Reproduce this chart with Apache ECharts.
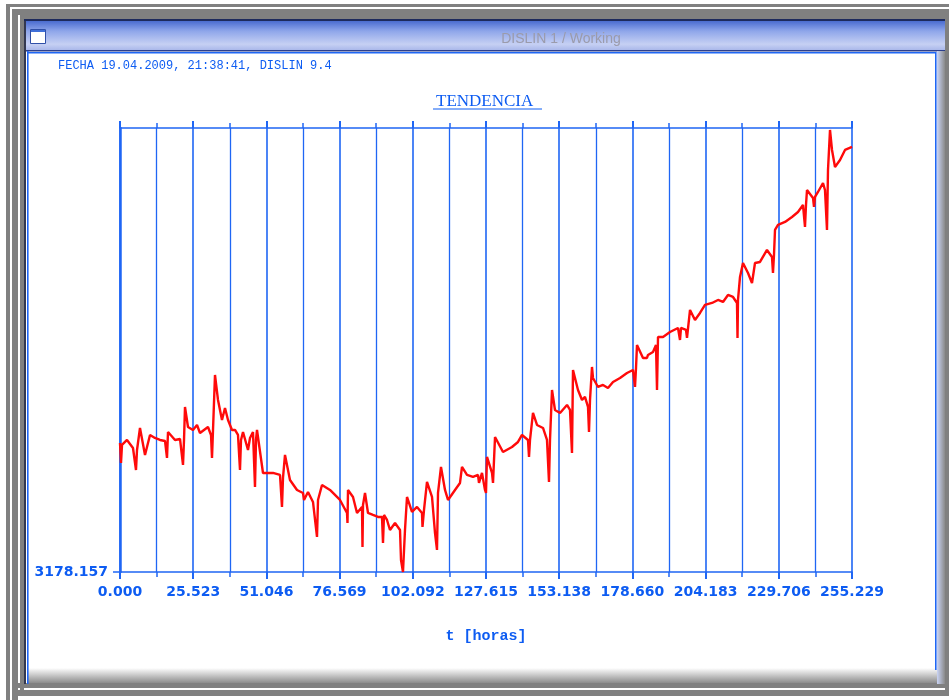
<!DOCTYPE html>
<html>
<head>
<meta charset="utf-8">
<script src="https://cdn.jsdelivr.net/npm/echarts@6/dist/echarts.min.js"></script>
<style>
  html, body { margin: 0; padding: 0; background: #ffffff; }
  #chart { width: 949px; height: 700px; }
</style>
</head>
<body>
<div id="chart"></div>
<script>
// Axis ranges (hours on x, measured level on y)
const T_MIN = 0;
const T_MAX = 255.229;
const T_STEP = 25.5229;
const Y_MIN = 3178.157;
const Y_MAX = 3222.557;

// Labels printed under the major x ticks
const xTickLabels = [
  '0.000', '25.523', '51.046', '76.569', '102.092', '127.615',
  '153.138', '178.660', '204.183', '229.706', '255.229'
];

// Sample times [h]
const hours = [
  0.00, 0.35, 0.70, 2.44, 4.53, 5.58, 5.93, 6.97, 8.72, 10.46,
  12.20, 13.95, 15.69, 16.39, 16.74, 19.18, 20.92, 21.97, 22.32, 22.66,
  23.71, 25.45, 26.85, 27.89, 30.68, 31.73, 32.08, 32.43, 33.12, 34.17,
  35.56, 36.61, 37.66, 39.05, 40.10, 41.14, 41.84, 42.19, 42.89, 44.63,
  45.33, 46.37, 47.07, 47.42, 47.77, 49.86, 53.35, 55.79, 56.48, 56.83,
  57.53, 59.27, 61.72, 63.81, 64.16, 65.55, 67.29, 68.69, 69.04, 70.43,
  73.22, 76.71, 79.15, 79.32, 79.50, 81.24, 82.64, 84.38, 84.55, 84.73,
  85.43, 86.47, 88.21, 89.96, 91.35, 91.70, 92.05, 93.10, 94.14, 95.89,
  97.63, 97.98, 98.67, 99.37, 100.07, 101.81, 103.56, 105.30, 105.47, 106.00,
  107.04, 108.79, 109.83, 110.53, 110.88, 111.92, 113.32, 114.37, 116.81, 118.55,
  119.24, 120.99, 123.08, 124.82, 125.17, 126.22, 127.27, 127.61, 127.96, 129.71,
  130.06, 130.76, 133.54, 136.68, 138.77, 140.17, 142.26, 142.61, 142.96, 144.00,
  145.40, 147.49, 148.88, 149.58, 149.93, 150.63, 151.67, 153.42, 155.86, 156.90,
  157.60, 157.78, 157.95, 159.69, 161.09, 162.13, 163.18, 163.53, 163.88, 164.57,
  164.92, 166.67, 168.41, 170.15, 171.90, 174.34, 176.78, 178.87, 179.57, 179.92,
  180.26, 182.36, 183.75, 184.10, 185.84, 186.89, 187.24, 187.59, 189.33, 191.77,
  194.56, 195.26, 195.61, 197.35, 197.70, 198.75, 200.49, 202.23, 203.97, 206.41,
  208.51, 210.25, 211.99, 213.74, 215.13, 215.31, 215.48, 216.18, 217.22, 218.97,
  220.36, 221.41, 223.15, 225.59, 227.33, 227.68, 228.03, 228.38, 229.43, 231.87,
  234.31, 236.40, 238.14, 238.84, 239.19, 239.54, 241.63, 241.98, 242.33, 243.37,
  245.12, 245.81, 246.51, 246.86, 247.56, 248.26, 249.30, 251.05, 252.79, 255.23
];

// Measured level at each sample time
const level = [
  3191.06, 3189.06, 3190.86, 3191.36, 3190.56, 3188.36, 3190.36, 3192.56, 3189.86, 3191.86,
  3191.56, 3191.36, 3191.26, 3189.56, 3192.16, 3191.36, 3191.46, 3188.86, 3191.36, 3194.66,
  3192.66, 3192.36, 3192.86, 3192.06, 3192.66, 3191.86, 3189.56, 3192.36, 3197.86, 3195.36,
  3193.36, 3194.56, 3193.36, 3192.36, 3192.36, 3191.86, 3188.36, 3191.36, 3192.16, 3190.36,
  3191.56, 3192.16, 3186.66, 3191.36, 3192.36, 3188.06, 3188.06, 3187.86, 3184.66, 3187.56,
  3189.86, 3187.36, 3186.36, 3186.06, 3185.36, 3186.16, 3185.16, 3181.66, 3185.36, 3186.86,
  3186.36, 3185.36, 3184.06, 3183.06, 3186.36, 3185.66, 3184.06, 3184.66, 3180.66, 3184.86,
  3186.06, 3184.06, 3183.86, 3183.66, 3183.66, 3181.06, 3183.86, 3183.36, 3182.36, 3183.06,
  3182.36, 3179.36, 3178.16, 3182.36, 3185.66, 3184.16, 3184.66, 3184.06, 3182.66, 3184.36,
  3187.16, 3185.66, 3182.06, 3180.36, 3186.06, 3188.66, 3186.36, 3185.36, 3186.36, 3187.06,
  3188.66, 3187.86, 3187.66, 3187.86, 3187.06, 3188.06, 3186.36, 3186.06, 3189.66, 3188.06,
  3187.06, 3191.66, 3190.16, 3190.66, 3191.16, 3191.86, 3191.36, 3189.66, 3191.36, 3194.06,
  3192.86, 3192.56, 3191.36, 3187.16, 3191.36, 3196.36, 3194.36, 3194.06, 3194.86, 3194.36,
  3190.06, 3194.36, 3198.36, 3196.36, 3195.36, 3195.66, 3194.66, 3192.16, 3195.36, 3198.66,
  3197.56, 3196.66, 3196.86, 3196.56, 3197.16, 3197.56, 3198.06, 3198.36, 3196.66, 3198.56,
  3200.86, 3199.56, 3199.56, 3199.86, 3200.16, 3200.86, 3196.36, 3201.66, 3201.66, 3202.16,
  3202.56, 3201.36, 3202.56, 3202.36, 3201.56, 3204.36, 3203.36, 3204.06, 3204.86, 3205.06,
  3205.36, 3205.16, 3205.86, 3205.66, 3205.06, 3201.56, 3205.36, 3207.66, 3209.06, 3208.06,
  3207.06, 3209.06, 3209.16, 3210.36, 3209.66, 3208.06, 3209.86, 3212.36, 3212.86, 3213.16,
  3213.66, 3214.16, 3214.86, 3212.66, 3214.86, 3216.36, 3215.56, 3214.66, 3215.66, 3216.16,
  3217.06, 3216.36, 3212.36, 3218.36, 3222.36, 3220.36, 3218.66, 3219.36, 3220.36, 3220.66
];

const BLUE = '#1f66f4';
const TEXT_BLUE = '#0d5cf2';
const GREY = '#808080';

const points = hours.map((t, i) => [t, level[i]]);

function rect(x, y, w, h, fill) {
  return { type: 'rect', shape: { x: x, y: y, width: w, height: h }, style: { fill: fill }, silent: true };
}

// Window frame around the plot
const frame = [
  rect(6, 4, 943, 3, GREY),
  rect(6, 4, 4, 696, GREY),
  rect(12, 9, 937, 6, GREY),
  rect(12, 9, 6, 691, GREY),
  rect(20, 15, 929, 4, GREY),
  rect(20, 15, 4, 675, GREY),
  rect(945, 15, 4, 676, GREY),
  rect(18, 683, 931, 5, GREY),
  rect(12, 690, 937, 6, GREY),
  rect(24, 19, 2, 665, '#33384f'),
  rect(24, 19, 921, 2, '#1d2a5c'),
  {
    type: 'rect', silent: true,
    shape: { x: 26, y: 21, width: 919, height: 29 },
    style: {
      fill: new echarts.graphic.LinearGradient(0, 0, 0, 1, [
        { offset: 0, color: '#4a6cd0' },
        { offset: 0.35, color: '#8fa6ea' },
        { offset: 0.8, color: '#c6d0f3' },
        { offset: 1, color: '#aab8ea' }
      ])
    }
  },
  rect(26, 50, 919, 1.5, '#2c3f8c'),
  {
    type: 'rect', silent: true,
    shape: { x: 937, y: 51, width: 8, height: 633 },
    style: {
      fill: new echarts.graphic.LinearGradient(0, 0, 1, 0, [
        { offset: 0, color: '#c9d3f4' },
        { offset: 1, color: '#8a8a8a' }
      ])
    }
  },
  {
    type: 'rect', silent: true,
    shape: { x: 28, y: 668, width: 909, height: 15 },
    style: {
      fill: new echarts.graphic.LinearGradient(0, 0, 0, 1, [
        { offset: 0, color: '#ffffff' },
        { offset: 1, color: '#8c8c8c' }
      ])
    }
  },
  rect(27, 51, 1.6, 633, BLUE),
  rect(27, 52, 909, 1.5, BLUE),
  rect(935, 52, 1.6, 618, BLUE),
  // window icon
  { type: 'rect', silent: true, shape: { x: 30.5, y: 29.5, width: 15, height: 14 },
    style: { fill: '#ffffff', stroke: '#2f4fa8', lineWidth: 1 } },
  rect(31, 30, 14, 2, '#3f6fd8'),
  {
    type: 'text', silent: true, x: 561, y: 39,
    style: {
      text: 'DISLIN 1 / Working', fill: '#9b9bab',
      font: '14px "Liberation Sans"', align: 'center', verticalAlign: 'middle'
    }
  },
  // underline of the heading
  { type: 'line', silent: true, shape: { x1: 433, y1: 109, x2: 542, y2: 109 },
    style: { stroke: TEXT_BLUE, lineWidth: 1 } }
];

const labelFont = { color: TEXT_BLUE, fontFamily: 'DejaVu Sans', fontWeight: 'bold', fontSize: 14 };

const chart = echarts.init(document.getElementById('chart'), null, { renderer: 'canvas' });
chart.setOption({
  backgroundColor: '#ffffff',
  animation: false,
  title: [
    {
      text: 'FECHA 19.04.2009, 21:38:41, DISLIN 9.4',
      left: 53, top: 55,
      textStyle: { color: TEXT_BLUE, fontFamily: 'Liberation Mono', fontWeight: 'normal', fontSize: 12 }
    },
    {
      text: 'TENDENCIA',
      left: 431, top: 88,
      textStyle: { color: TEXT_BLUE, fontFamily: 'Liberation Serif', fontWeight: 'normal', fontSize: 17 }
    }
  ],
  grid: { left: 120, right: 97, top: 128, bottom: 128, containLabel: false },
  xAxis: [
    {
      type: 'value', position: 'bottom', min: T_MIN, max: T_MAX, interval: T_STEP,
      axisLine: { show: true, onZero: false, lineStyle: { color: BLUE, width: 1.5 } },
      axisTick: { show: true, inside: false, length: 7, lineStyle: { color: BLUE, width: 2 } },
      minorTick: { show: true, splitNumber: 2, length: 5, lineStyle: { color: BLUE, width: 1.5 } },
      splitLine: { show: true, lineStyle: { color: BLUE, width: 1.6 } },
      minorSplitLine: { show: true, lineStyle: { color: BLUE, width: 1.3 } },
      axisLabel: Object.assign({
        margin: 13,
        formatter: v => xTickLabels[Math.round(v / T_STEP)] || ''
      }, labelFont),
      name: 't [horas]', nameLocation: 'middle', nameGap: 57,
      nameTextStyle: { color: TEXT_BLUE, fontFamily: 'Liberation Mono', fontWeight: 'bold', fontSize: 15 }
    },
    {
      type: 'value', position: 'top', min: T_MIN, max: T_MAX, interval: T_STEP,
      axisLine: { show: true, onZero: false, lineStyle: { color: BLUE, width: 1.5 } },
      axisTick: { show: true, inside: false, length: 7, lineStyle: { color: BLUE, width: 2 } },
      minorTick: { show: true, splitNumber: 2, length: 5, lineStyle: { color: BLUE, width: 1.5 } },
      splitLine: { show: false },
      axisLabel: { show: false }
    }
  ],
  yAxis: {
    type: 'value', min: Y_MIN, max: Y_MAX,
    axisLine: { show: true, onZero: false, lineStyle: { color: BLUE, width: 2.5 } },
    axisTick: { show: true, inside: false, length: 7, customValues: [Y_MIN], lineStyle: { color: BLUE, width: 1.5 } },
    splitLine: { show: false },
    axisLabel: Object.assign({
      margin: 12, customValues: [Y_MIN],
      formatter: v => (Math.abs(v - Y_MIN) < 1e-6 ? Y_MIN.toFixed(3) : '')
    }, labelFont)
  },
  graphic: { elements: frame },
  series: [
    {
      type: 'line', xAxisIndex: 0, yAxisIndex: 0,
      data: points, showSymbol: false, symbol: 'none',
      lineStyle: { color: '#ff0a0a', width: 2.4 },
      z: 5
    }
  ]
});
</script>
</body>
</html>
